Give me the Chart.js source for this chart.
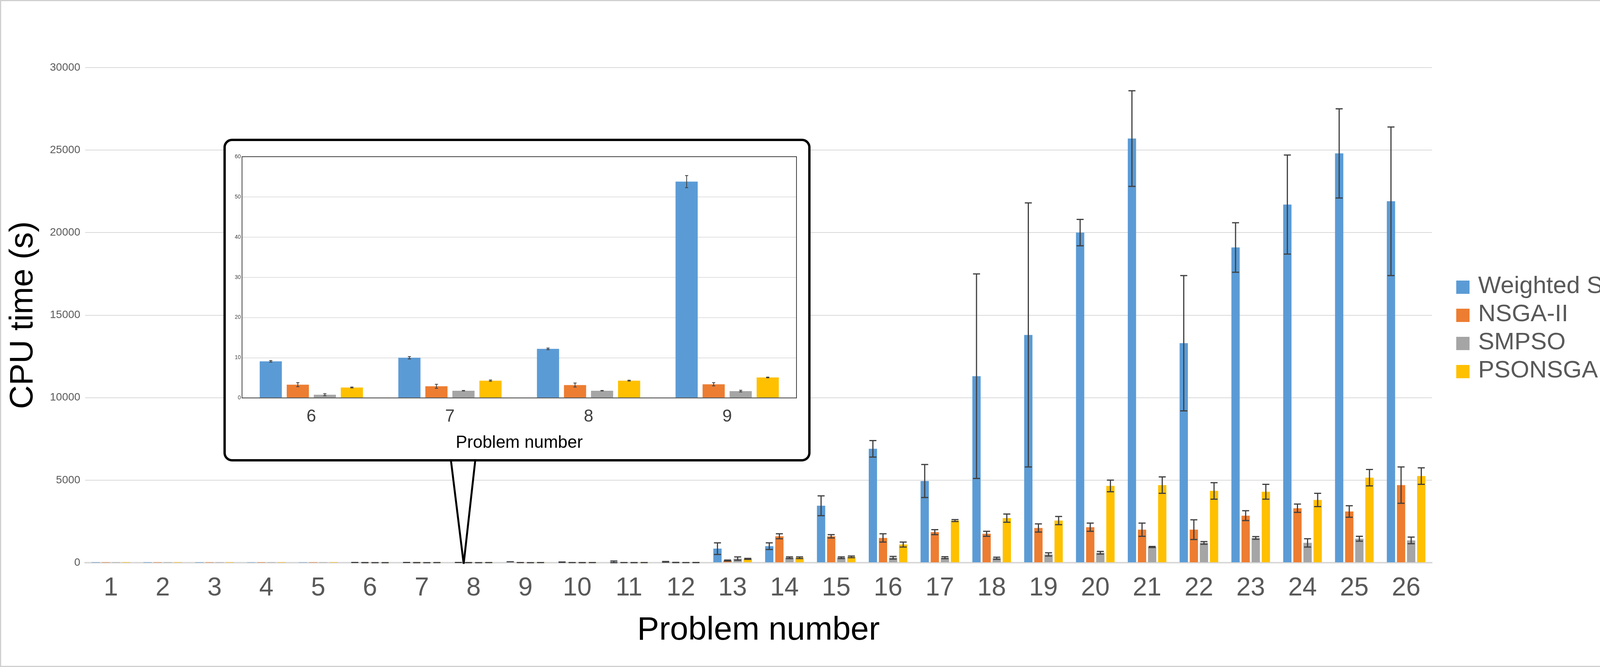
<!DOCTYPE html>
<html>
<head>
<meta charset="utf-8">
<script src="https://cdn.jsdelivr.net/npm/chart.js@4"></script>
<style>
  html, body { margin: 0; padding: 0; background: #fff; }
  #wrap { position: relative; width: 4247px; height: 1707px; box-sizing: border-box; border: 3px solid #d0d0d0; }
  #main { position: absolute; left: 0; top: 0; }
  #inset { position: absolute; left: 569px; top: 352px; width: 1503px; height: 826px; box-sizing: border-box;
           border: 6px solid #000; border-radius: 22px; background: #fff; }
  #pointer { position: absolute; left: 0; top: 0; }
  #legend { position: absolute; left: 3725px; top: 690px; font-family: 'Liberation Sans', sans-serif; font-size: 62px; color: #595959; }
  #legend div { height: 72px; line-height: 72px; white-space: nowrap; }
  #legend span { display: inline-block; width: 34px; height: 34px; margin-right: 22px; vertical-align: -2px; }
</style>
</head>
<body>
<div id="wrap">
  <canvas id="main" width="4241" height="1701"></canvas>
  <svg id="pointer" width="4241" height="1701"><polygon points="1151,1172 1184,1440 1214,1172" fill="#fff" stroke="#000" stroke-width="5"/></svg>
  <div id="inset"><canvas id="zoomChart"></canvas></div>
  <div id="legend"></div>
</div>
<script>
// main chart data
var problems = ['1','2','3','4','5','6','7','8','9','10','11','12','13','14','15','16','17','18','19','20','21','22','23','24','25','26'];
var wsVals = [0.5, 1, 2, 3, 5, 9.1, 10, 12.2, 53.8, 30, 40, 50, 850, 1000, 3450, 6900, 4950, 11300, 13800, 20000, 25700, 13300, 19100, 21700, 24800, 21900];
var wsErr  = [0, 0, 0, 0, 0, 0.2, 0.3, 0.2, 1.5, 10, 60, 20, 350, 200, 600, 500, 1000, 6200, 8000, 800, 2900, 4100, 1500, 3000, 2700, 4500];
var nsVals = [0.5, 1, 1, 2, 2, 3.3, 2.9, 3.2, 3.4, 5, 5, 10, 130, 1600, 1600, 1500, 1850, 1750, 2100, 2150, 2000, 2000, 2850, 3300, 3100, 4700];
var nsErr  = [0, 0, 0, 0, 0, 0.5, 0.5, 0.5, 0.4, 2, 2, 5, 30, 150, 100, 250, 150, 150, 250, 250, 400, 600, 300, 250, 350, 1100];
var smVals = [0.3, 0.5, 0.5, 0.6, 0.7, 0.8, 1.8, 1.8, 1.7, 3, 3, 5, 250, 300, 300, 300, 300, 270, 500, 600, 950, 1200, 1500, 1200, 1450, 1350];
var smErr  = [0, 0, 0, 0, 0, 0.25, 0.05, 0.05, 0.2, 1, 1, 2, 100, 50, 50, 80, 60, 60, 100, 80, 30, 80, 80, 250, 150, 200];
var psVals = [0.5, 1, 1, 2, 2, 2.6, 4.3, 4.3, 5.1, 6, 6, 10, 230, 300, 350, 1100, 2550, 2700, 2550, 4650, 4700, 4350, 4300, 3800, 5150, 5250];
var psErr  = [0, 0, 0, 0, 0, 0.1, 0.15, 0.1, 0.1, 1, 1, 2, 30, 50, 50, 150, 60, 250, 250, 350, 500, 500, 450, 400, 500, 500];
var seriesNames = ['Weighted Sum', 'NSGA-II', 'SMPSO', 'PSONSGA'];
var seriesColors = ['#5B9BD5', '#ED7D31', '#A5A5A5', '#FFC000'];
var yTicks = [0, 5000, 10000, 15000, 20000, 25000, 30000];

// inset data (problems 6-9)
var zoomProblems = ['6', '7', '8', '9'];
var zoomFrom = 5, zoomTo = 9;

var allVals = [wsVals, nsVals, smVals, psVals];
var allErr = [wsErr, nsErr, smErr, psErr];

var errorBars = {
  id: 'errorBars',
  afterDatasetsDraw: function(chart, args, opts) {
    var ctx = chart.ctx, y = chart.scales.y;
    ctx.save();
    ctx.strokeStyle = '#404040';
    ctx.lineWidth = opts.lw;
    chart.data.datasets.forEach(function(ds, i) {
      var meta = chart.getDatasetMeta(i);
      meta.data.forEach(function(bar, j) {
        var v = ds.data[j], e = ds.err[j];
        if (!e) return;
        var top = y.getPixelForValue(v + e), bot = y.getPixelForValue(Math.max(v - e, 0));
        ctx.beginPath();
        ctx.moveTo(bar.x, top); ctx.lineTo(bar.x, bot);
        ctx.moveTo(bar.x - opts.cap, top); ctx.lineTo(bar.x + opts.cap, top);
        ctx.moveTo(bar.x - opts.cap, bot); ctx.lineTo(bar.x + opts.cap, bot);
        ctx.stroke();
      });
    });
    ctx.restore();
  }
};

function makeSets(from, to) {
  return seriesNames.map(function(n, i) {
    return {
      label: n,
      data: allVals[i].slice(from, to),
      err: allErr[i].slice(from, to),
      backgroundColor: seriesColors[i],
      categoryPercentage: 0.78,
      barPercentage: 0.82
    };
  });
}

// html legend
var lg = document.getElementById('legend');
seriesNames.forEach(function(n, i) {
  var d = document.createElement('div');
  d.innerHTML = '<span style="background:' + seriesColors[i] + '"></span>' + n;
  lg.appendChild(d);
});

new Chart(document.getElementById('main'), {
  type: 'bar',
  data: { labels: problems, datasets: makeSets(0, 26) },
  plugins: [errorBars],
  options: {
    responsive: false,
    animation: false,
    layout: { padding: { left: 0, top: 170, right: 578, bottom: 40 } },
    plugins: {
      errorBars: { lw: 3, cap: 9 },
      tooltip: { enabled: false },
      legend: { display: false }
    },
    scales: {
      x: {
        grid: { display: false },
        border: { color: '#d9d9d9', width: 4 },
        ticks: { font: { family: 'Liberation Sans', size: 66 }, color: '#595959', padding: 18 },
        title: { display: true, text: 'Problem number', font: { family: 'Liberation Sans', size: 84 }, color: '#000', padding: 0 }
      },
      y: {
        min: 0, max: 30000,
        afterBuildTicks: function(s) { s.ticks = yTicks.map(function(v) { return { value: v }; }); },
        grid: { color: '#d9d9d9', lineWidth: 2, drawTicks: false },
        border: { display: false },
        ticks: { font: { family: 'Liberation Sans', size: 28 }, color: '#595959', padding: 12,
                 callback: function(v) { return String(v); } },
        title: { display: true, text: 'CPU time (s)', font: { family: 'Liberation Sans', size: 84 }, color: '#000', padding: 6 }
      }
    }
  }
});

var zc = document.getElementById('zoomChart');
zc.width = 1491; zc.height = 814;
new Chart(zc, {
  type: 'bar',
  data: { labels: zoomProblems, datasets: makeSets(zoomFrom, zoomTo) },
  plugins: [errorBars, {
    id: 'frame',
    afterDraw: function(c) {
      var a = c.chartArea, ctx = c.ctx;
      ctx.save(); ctx.strokeStyle = '#404040'; ctx.lineWidth = 2;
      ctx.strokeRect(a.left, a.top, a.right - a.left, a.bottom - a.top); ctx.restore();
    }
  }],
  options: {
    responsive: false,
    animation: false,
    layout: { padding: { left: 20, top: 40, right: 30, bottom: 15 } },
    plugins: { errorBars: { lw: 2, cap: 4 }, legend: { display: false }, tooltip: { enabled: false } },
    scales: {
      x: {
        grid: { display: false },
        ticks: { font: { family: 'Liberation Sans', size: 44 }, color: '#404040', padding: 14 },
        title: { display: true, text: 'Problem number', font: { family: 'Liberation Sans', size: 44 }, color: '#000', padding: 0 }
      },
      y: {
        min: 0, max: 60,
        ticks: { stepSize: 10, font: { family: 'Liberation Sans', size: 14 }, color: '#404040' },
        grid: { color: '#e0e0e0', lineWidth: 2, drawTicks: false },
        border: { display: false }
      }
    }
  }
});
</script>
</body>
</html>
